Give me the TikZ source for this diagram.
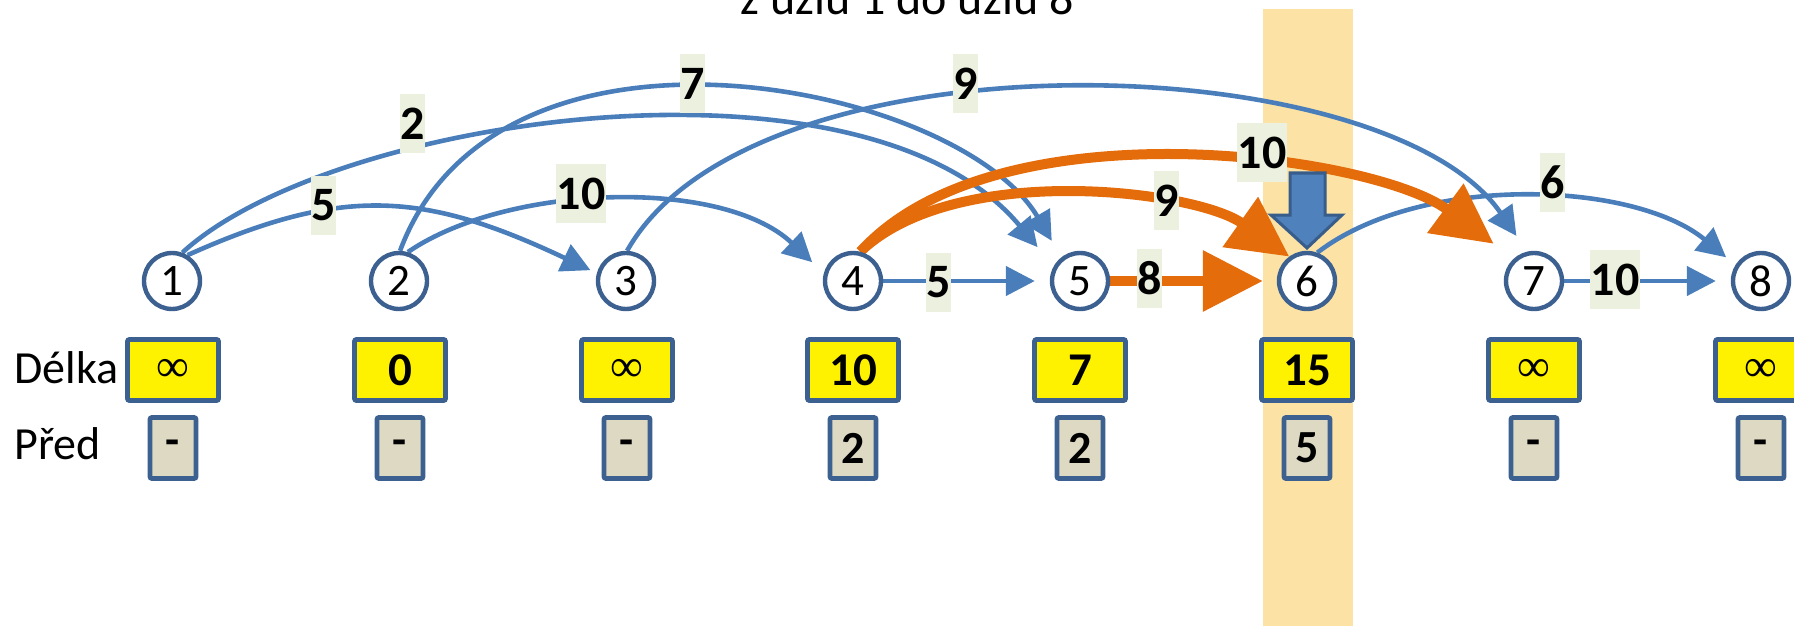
\documentclass[tikz,border=0pt]{standalone}
\usepackage{fontspec}
\setmainfont{Carlito}
\newfontfamily\inffont{Liberation Serif}
\usetikzlibrary{arrows.meta}
\definecolor{eblue}{HTML}{4A7EBB}
\definecolor{nborder}{HTML}{3C6090}
\definecolor{eorange}{HTML}{E46C0A}
\definecolor{lblbg}{HTML}{EBF1DE}
\definecolor{hilite}{HTML}{FCE3A5}
\definecolor{predbg}{HTML}{DDD9C3}
\definecolor{afill}{HTML}{4F81BD}
\definecolor{aborder}{HTML}{385D8A}
\newcommand{\infsym}{{\inffont\mdseries\fontsize{23}{24}\selectfont ∞}}
\begin{document}
\begin{tikzpicture}[x=0.5pt,y=-0.5pt,
  vtx/.style={circle, draw=nborder, line width=2.2pt, fill=white, minimum size=28pt, inner sep=0pt, font=\fontsize{22.5}{22.5}\selectfont},
  lenbox/.style={rectangle, rounded corners=1pt, draw=nborder, line width=2.4pt, fill=yellow, minimum width=45.5pt, minimum height=30.5pt, inner sep=0pt, font=\bfseries\fontsize{23.5}{24}\selectfont},
  predbox/.style={rectangle, rounded corners=1pt, draw=nborder, line width=2.4pt, fill=predbg, minimum width=23pt, minimum height=30.5pt, inner sep=0pt, font=\bfseries\fontsize{23}{24}\selectfont},
  wlabel/.style={rectangle, fill=lblbg, inner xsep=0.3pt, inner ysep=0pt, minimum height=29.5pt, font=\bfseries\fontsize{24}{24}\selectfont},
  bedge/.style={draw=eblue, line width=2.3pt, -{Triangle[length=14.5pt,width=14.5pt]}},
  oedge/.style={draw=eorange, line width=5pt, -{Triangle[length=30pt,width=29.5pt]}},
  rowlabel/.style={anchor=base west, inner sep=0pt, font=\fontsize{23}{23}\selectfont}
]
\useasboundingbox (0,0) rectangle (1794,626);
\fill[hilite] (1263,9) rectangle (1353,626);

\node[anchor=base west, inner sep=0pt, font=\fontsize{24}{24}\selectfont] (title) at (740,15) {z uzlu 1 do uzlu 8};

% vertices
\foreach \i/\x in {1/172,2/399,3/626,4/853,5/1080,6/1307,7/1534,8/1761}
  \coordinate (c\i) at (\x,281);
\foreach \i in {1,...,8}
  \node[vtx, draw=none, fill=none] (n\i) at (c\i) {};

% blue edges
\draw[bedge, shorten >=3.5pt] (n1.59) .. controls (342,186) and (423,191) .. (n3.165);
\draw[bedge, shorten >=12.5pt] (n1.70) .. controls (331,116) and (864,39) .. (n5.151);
\draw[bedge, shorten >=9.5pt] (n2.88) .. controls (498,-12) and (959,84) .. (n5.128);
\draw[bedge, shorten >=8pt] (n2.73) .. controls (507,184) and (722,177) .. (n4.165);
\draw[bedge, shorten >=9.5pt] (n3.88) .. controls (753,28) and (1385,45) .. (n7.103);
\draw[bedge, shorten >=6pt] (n6.70) .. controls (1421,173) and (1634,181) .. (n8.148);
\draw[bedge, shorten >=7.5pt] (n4) -- (n5);
\draw[bedge, shorten >=7.5pt] (n7) -- (n8);
% orange edges
\draw[oedge] (n4.76) .. controls (955,161) and (1195,190) .. (n6.126);
\draw[oedge, shorten >=12.5pt] (n4.76) .. controls (996,102) and (1373,155) .. (n7.132);
\draw[oedge, shorten >=7pt] (n5) -- (n6);

% visible vertices
\foreach \i in {1,...,8}
  \node[vtx] (v\i) at (c\i) {\i};

% weight labels
\node[wlabel] (w13) at (323.5,205.5) {5};
\node[wlabel] (w15) at (412.5,123.5) {2};
\node[wlabel] (w24) at (581,193.5) {10};
\node[wlabel] (w25) at (692.5,83.5) {7};
\node[wlabel] (w37) at (965.5,83.5) {9};
\node[wlabel] (w47) at (1262,152.5) {10};
\node[wlabel] (w46) at (1166.5,200.5) {9};
\node[wlabel] (w68) at (1552.5,182.5) {6};
\node[wlabel] (w45) at (938.5,282.5) {5};
\node[wlabel] (w56) at (1149.5,278.5) {8};
\node[wlabel] (w78) at (1615,279.5) {10};

% block arrow
\filldraw[fill=afill, draw=aborder, line width=1.5pt, line join=miter]
  (1290,173) -- (1325,173) -- (1325,215) -- (1342,215) -- (1307,248) -- (1271,215) -- (1290,215) -- cycle;

% rows
\node[rowlabel] (rl1) at (14,383) {Délka};
\node[rowlabel] (rl2) at (14,459) {Před};
\foreach \i/\x/\d/\p in {1/173/\infsym/-,2/400/0/-,3/627/\infsym/-,4/853/10/2,5/1080/7/2,6/1307/15/5,7/1534/\infsym/-,8/1761/\infsym/-}{
  \node[lenbox] (d\i) at (\x,370) {\d};
  \node[predbox] (p\i) at (\x,448) {\p};
}
\end{tikzpicture}
\end{document}
